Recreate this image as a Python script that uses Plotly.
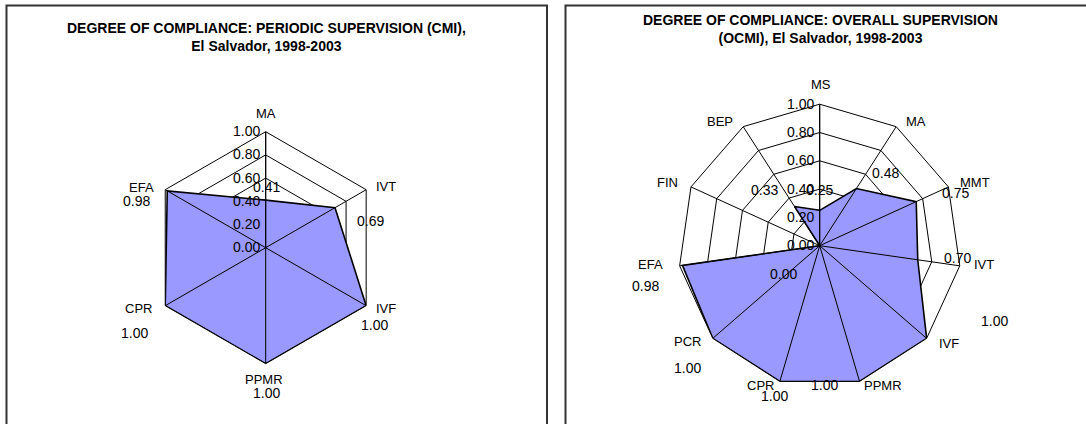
import math
import plotly.graph_objects as go

# periodic supervision (CMI)
cmi_cats = ["MA", "IVT", "IVF", "PPMR", "CPR", "EFA"]
cmi_vals = [0.41, 0.69, 1.00, 1.00, 1.00, 0.98]

# overall supervision (OCMI)
ocmi_cats = ["MS", "MA", "MMT", "IVT", "IVF", "PPMR", "CPR", "PCR", "EFA", "FIN", "BEP"]
ocmi_vals = [0.25, 0.48, 0.75, 0.70, 1.00, 1.00, 1.00, 1.00, 0.98, 0.00, 0.33]

radial_ticks = [0, 0.2, 0.4, 0.6, 0.8, 1.0]

cmi_title = "DEGREE OF COMPLIANCE: PERIODIC SUPERVISION (CMI),<br>El Salvador, 1998-2003"
ocmi_title = "DEGREE OF COMPLIANCE: OVERALL SUPERVISION<br>(OCMI), El Salvador, 1998-2003"

W, H = 1086, 424
FONT = "Liberation Sans, Arial, sans-serif"
FILL = "#9999FF"

# polar placement in px: centre x, centre y, radius
POLARS = {"polar": (265.7, 247.7, 116.0), "polar2": (819.7, 245.7, 141.5)}

# data label nudges (px) relative to each point, Excel puts them all over the place
cmi_label_shift = [(1, -13), (35, 13), (8, 19), (1, 29), (-31, 27), (-31, 10)]
ocmi_label_shift = [(0, -20), (29, -16), (39, -9), (40, -2), (68, -17), (-35, 4),
                    (-5, 15), (-25, 30), (-37, 21), (-36, 28), (-30, -16)]
# category name nudges relative to the outer vertex
cmi_cat_shift = [(0, -18), (20, -3), (20, 3), (-2, 16), (-27, 3), (-24, -2)]
ocmi_cat_shift = [(1, -20), (20, -5), (27, -4), (24, -1), (22, 5), (23, 4),
                  (-19, 4), (-25, 3), (-29, -1), (-23, -4), (-23, -5)]


def domain(cx, cy, r):
    return dict(x=[(cx - r) / W, (cx + r) / W], y=[(H - cy - r) / H, (H - cy + r) / H])


def polar_layout(cats, key):
    return dict(
        domain=domain(*POLARS[key]),
        bgcolor="white",
        gridshape="linear",
        angularaxis=dict(
            type="category", categoryarray=cats, direction="clockwise", rotation=90,
            showline=True, linecolor="black", linewidth=1, showgrid=False,
            ticks="", showticklabels=False,
        ),
        radialaxis=dict(
            range=[0, 1], tickvals=radial_ticks, tickformat=".2f",
            angle=90, tickangle=90, side="counterclockwise",
            showline=True, linecolor="black", linewidth=1,
            gridcolor="black", gridwidth=1, ticks="",
            tickfont=dict(family=FONT, size=14, color="black"),
        ),
    )


fig = go.Figure()


def add_radar(cats, vals, subplot):
    fig.add_trace(go.Scatterpolar(
        r=vals + vals[:1], theta=cats + cats[:1],
        mode="lines", fill="toself", fillcolor=FILL,
        line=dict(color="black", width=1.6),
        subplot=subplot, showlegend=False, hoverinfo="skip",
    ))
    # spokes sit on top of the fill, like in the Excel original
    r, th = [], []
    for c in cats:
        r += [0, 1, None]
        th += [c, c, None]
    fig.add_trace(go.Scatterpolar(
        r=r, theta=th, mode="lines", line=dict(color="black", width=1),
        subplot=subplot, showlegend=False, hoverinfo="skip", connectgaps=False,
    ))


add_radar(cmi_cats, cmi_vals, "polar")
add_radar(ocmi_cats, ocmi_vals, "polar2")


def polar_text(key, i, n, r, text, shift, size):
    cx, cy, R = POLARS[key]
    a = math.radians(360 / n * i)
    px = cx + r * R * math.sin(a)
    py = cy - r * R * math.cos(a)
    return dict(
        x=px / W, y=(H - py) / H, xref="paper", yref="paper",
        xanchor="center", yanchor="middle", showarrow=False,
        text=text, xshift=shift[0], yshift=-shift[1],
        font=dict(family=FONT, size=size, color="black"),
    )


annotations = []
for key, cats, vals, vshift, cshift in [
    ("polar", cmi_cats, cmi_vals, cmi_label_shift, cmi_cat_shift),
    ("polar2", ocmi_cats, ocmi_vals, ocmi_label_shift, ocmi_cat_shift),
]:
    n = len(cats)
    for i, c in enumerate(cats):
        annotations.append(polar_text(key, i, n, 1.0, c, cshift[i], 13))
        annotations.append(polar_text(key, i, n, vals[i], f"{vals[i]:.2f}", vshift[i], 14))

annotations += [
    dict(x=266.7 / W, y=(H - 37) / H, xref="paper", yref="paper", text=f"<b>{cmi_title}</b>",
         xanchor="center", yanchor="middle",
         showarrow=False, font=dict(family=FONT, size=14, color="black")),
    dict(x=820.8 / W, y=(H - 29) / H, xref="paper", yref="paper", text=f"<b>{ocmi_title}</b>",
         xanchor="center", yanchor="middle",
         showarrow=False, font=dict(family=FONT, size=14, color="black")),
]

# chart area frames
box = dict(type="rect", xref="paper", yref="paper", line=dict(color="#333333", width=2))
shapes = [
    dict(box, x0=6.5 / W, x1=547 / W, y0=-0.05, y1=(H - 5.5) / H),
    dict(box, x0=565.5 / W, x1=1.05, y0=-0.05, y1=(H - 5.5) / H),
]

fig.update_layout(
    width=W, height=H, margin=dict(l=0, r=0, t=0, b=0),
    paper_bgcolor="white", plot_bgcolor="white",
    polar=polar_layout(cmi_cats, "polar"),
    polar2=polar_layout(ocmi_cats, "polar2"),
    annotations=annotations, shapes=shapes,
    font=dict(family=FONT, color="black"),
)

fig.write_html("out.html", config={"displayModeBar": False},
               post_script="document.body.style.margin='0';")
